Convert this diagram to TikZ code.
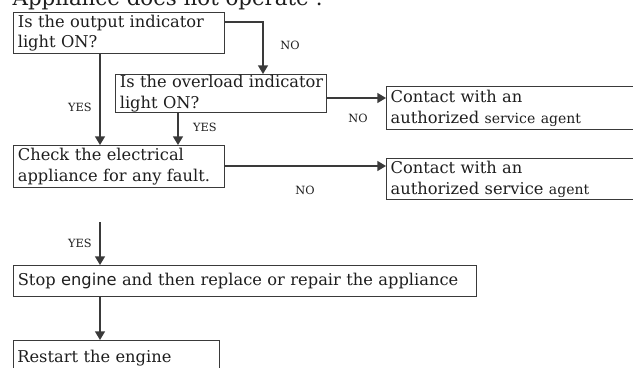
\documentclass[tikz,border=0pt]{standalone}
\usepackage{fontspec}
\setmainfont{DejaVu Serif}
\setsansfont{DejaVu Sans}
\usepackage{xcolor}
\usetikzlibrary{arrows.meta}

\definecolor{linec}{HTML}{3A3A3A}
\definecolor{textc}{HTML}{1E1E1E}

\begin{document}
\begin{tikzpicture}[
    x=0.75pt, y=-0.75pt,
    line width=1pt,
    text=textc,
    box/.style={draw=linec, line width=1pt, anchor=north west, inner xsep=2.5pt,
        inner ysep=0pt, align=left, font=\fontsize{12.2}{15.6}\selectfont},
    lab/.style={font=\fontsize{8.5}{10}\selectfont},
    arr/.style={draw=linec, -{Triangle[length=6.5pt,width=7.5pt]}}
]
\clip (0,0) rectangle (633,368);

% Title (cut at the top)
\node[anchor=base west, inner sep=0pt, font=\fontsize{16}{18}\selectfont] (title) at (12,5)
    {Appliance does not operate :};

% Questions
\node[box, minimum width=158.25pt, minimum height=30.75pt, text width=152pt] (q1) at (13,12)
    {\mbox{Is the output indicator}\\light ON?};
\node[box, minimum width=158.25pt, minimum height=28.5pt, text width=152pt] (q2) at (115,74)
    {\mbox{Is the overload indicator}\\light ON?};
\node[box, minimum width=158.25pt, minimum height=31.5pt, text width=152pt] (q3) at (13,145)
    {\mbox{Check the electrical}\\\mbox{appliance for any fault.}};

% Contact boxes
\node[box, minimum width=195pt, minimum height=32.25pt, text width=189pt] (c1) at (386,86)
    {Contact with an\\\mbox{authorized {\fontsize{10.5}{15.6}\selectfont service agent}}};
\node[box, minimum width=195pt, minimum height=30.75pt, text width=189pt] (c2) at (386,158)
    {Contact with an\\\mbox{authorized service {\fontsize{10.5}{15.6}\selectfont agent}}};

% Actions
\node[box, minimum width=347.25pt, minimum height=23.25pt, text width=341pt] (stop) at (13,265)
    {\mbox{Stop {\sffamily engine} and then replace or repair the appliance}};
\node[box, minimum width=154.5pt, minimum height=25.5pt, text width=149pt] (restart) at (13,340)
    {Restart the engine};

% Helper coordinates
\coordinate (lx) at (100,0);
\coordinate (mx) at (178,0);
\coordinate (nx) at (263,0);
\coordinate (top) at (0,22);
\coordinate (yes3) at (100,222);

% Connectors
\draw[arr] (q1.east |- top) -- (nx |- top) -- (q2.north -| nx);
\node[lab] (no1) at (290,45) {NO};
\draw[arr] (q1.south -| lx) -- (q3.north -| lx);
\node[lab] (yes1) at (80,107) {YES};
\draw[arr] (q2.south -| mx) -- (q3.north -| mx);
\node[lab] (yes2) at (205,127) {YES};
\draw[arr] (q2.east |- 0,98) -- (c1.west |- 0,98);
\node[lab] (no2) at (358,118) {NO};
\draw[arr] (q3.east |- 0,166) -- (c2.west |- 0,166);
\node[lab] (no3) at (305,190) {NO};
\draw[arr] (yes3) -- (stop.north -| yes3);
\node[lab] (yes4) at (80,243) {YES};
\draw[arr] (stop.south -| lx) -- (restart.north -| lx);
\end{tikzpicture}
\end{document}
